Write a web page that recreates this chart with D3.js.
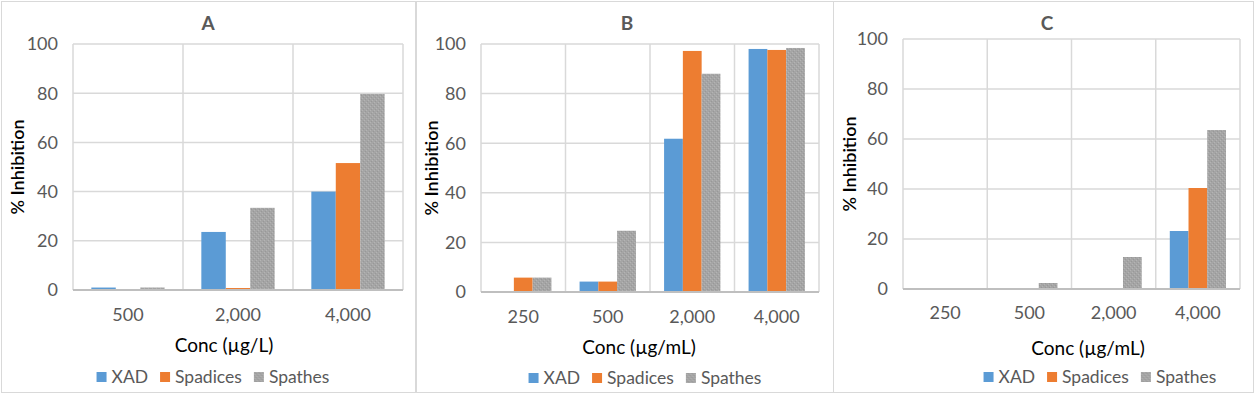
<!DOCTYPE html>
<html>
<head>
<meta charset="utf-8">
<script src="https://cdn.jsdelivr.net/npm/d3@7"></script>
<style>
  body { margin: 0; background: #fff; }
  text { font-family: Lato, "Open Sans", sans-serif; }
</style>
</head>
<body>
<svg id="chart" width="1254" height="395"></svg>
<script>
// data
const seriesNames = ["XAD", "Spadices", "Spathes"]
const catsA = ["500", "2,000", "4,000"]
const catsBC = ["250", "500", "2,000", "4,000"]
const yTicks = [0, 20, 40, 60, 80, 100]

const aXAD = [1, 23.6, 40]
const aSpadices = [0, 0.8, 51.6]
const aSpathes = [1, 33.4, 79.7]

const bXAD = [0, 4.2, 61.8, 98]
const bSpadices = [5.8, 4.2, 97.2, 97.6]
const bSpathes = [5.8, 24.7, 88, 98.4]

const cXAD = [0, 0, 0, 23.2]
const cSpadices = [0, 0, 0, 40.4]
const cSpathes = [0, 2.4, 12.8, 63.6]

const colors = ["#5b9bd5", "#ed7d31", "url(#grain)"]

const svg = d3.select("#chart")

// grainy grey pattern for the Spathes bars
const defs = svg.append("defs")
const pat = defs.append("pattern").attr("id", "grain")
  .attr("width", 4).attr("height", 4).attr("patternUnits", "userSpaceOnUse")
pat.append("rect").attr("width", 4).attr("height", 4).attr("fill", "#a5a5a5")
pat.append("rect").attr("x", 0).attr("y", 0).attr("width", 1).attr("height", 1).attr("fill", "#b4b4b4")
pat.append("rect").attr("x", 2).attr("y", 2).attr("width", 1).attr("height", 1).attr("fill", "#b4b4b4")
pat.append("rect").attr("x", 1).attr("y", 3).attr("width", 1).attr("height", 1).attr("fill", "#989898")
pat.append("rect").attr("x", 3).attr("y", 1).attr("width", 1).attr("height", 1).attr("fill", "#989898")

const panels = [
  { title: "A", cats: catsA, values: [aXAD, aSpadices, aSpathes], xTitle: "Conc (µg/L)",
    box: [1, 1, 415, 392], plot: [73, 44, 403, 290], titleX: 208, yLabX: 18, tickY: 315, xTitleX: 224, xTitleY: 345, legX: 213, legY: 377 },
  { title: "B", cats: catsBC, values: [bXAD, bSpadices, bSpathes], xTitle: "Conc (µg/mL)",
    box: [416, 1, 833, 392], plot: [481, 44, 819, 292], titleX: 627, yLabX: 432, tickY: 317, xTitleX: 639, xTitleY: 347, legX: 645, legY: 378 },
  { title: "C", cats: catsBC, values: [cXAD, cSpadices, cSpathes], xTitle: "Conc (µg/mL)",
    box: [833, 1, 1253, 392], plot: [903, 39, 1240, 289], titleX: 1047, yLabX: 850, tickY: 313, xTitleX: 1088, xTitleY: 348, legX: 1100, legY: 377 }
]

panels.forEach(drawPanel)

function drawPanel(p) {
  const g = svg.append("g")
  const [l, t, r, b] = p.plot

  g.append("rect")
    .attr("x", p.box[0] + 0.5).attr("y", p.box[1] + 0.5)
    .attr("width", p.box[2] - p.box[0]).attr("height", p.box[3] - p.box[1])
    .attr("fill", "#fff").attr("stroke", "#d9d9d9").attr("stroke-width", 1)

  const x = d3.scaleBand().domain(p.cats).range([l, r]).padding(0)
  const xs = d3.scaleBand().domain(seriesNames).range([0, x.bandwidth()])
    .paddingInner(0).paddingOuter(0.75)
  const y = d3.scaleLinear().domain([0, 100]).range([b, t])

  // horizontal grid
  g.selectAll(".hg").data(yTicks).join("line")
    .attr("x1", l).attr("x2", r)
    .attr("y1", d => y(d)).attr("y2", d => y(d))
    .attr("stroke", "#d9d9d9").attr("stroke-width", 1.5)

  // vertical grid at category boundaries
  const bounds = p.cats.map(c => x(c)).concat([r])
  g.selectAll(".vg").data(bounds).join("line")
    .attr("x1", d => d).attr("x2", d => d)
    .attr("y1", t).attr("y2", b)
    .attr("stroke", "#d9d9d9").attr("stroke-width", 1.5)

  // bars
  seriesNames.forEach((s, si) => {
    g.selectAll(".bar" + si).data(p.values[si]).join("rect")
      .attr("x", (d, i) => x(p.cats[i]) + xs(s))
      .attr("width", xs.bandwidth())
      .attr("y", d => y(d))
      .attr("height", d => y(0) - y(d))
      .attr("fill", colors[si])
  })

  // x axis line
  g.append("line").attr("x1", l).attr("x2", r).attr("y1", b).attr("y2", b)
    .attr("stroke", "#bfbfbf").attr("stroke-width", 2)

  // y tick labels
  g.selectAll(".yt").data(yTicks).join("text")
    .attr("x", l - 15).attr("y", d => y(d))
    .attr("dy", "0.35em").attr("text-anchor", "end")
    .attr("font-size", 18).attr("fill", "#595959")
    .text(d => d)

  // x tick labels
  g.selectAll(".xt").data(p.cats).join("text")
    .attr("x", d => x(d) + x.bandwidth() / 2).attr("y", p.tickY)
    .attr("dy", "0.35em").attr("text-anchor", "middle")
    .attr("font-size", 18).attr("fill", "#595959")
    .text(d => d)

  // title
  g.append("text").attr("x", p.titleX).attr("y", 23).attr("dy", "0.35em")
    .attr("text-anchor", "middle").attr("font-size", 19).attr("font-weight", "bold")
    .attr("fill", "#595959").text(p.title)

  // y title
  g.append("text")
    .attr("transform", `translate(${p.yLabX},${(t + b) / 2}) rotate(-90)`)
    .attr("dy", "0.35em").attr("text-anchor", "middle")
    .attr("font-size", 18).attr("font-weight", 600).attr("fill", "#000")
    .text("% Inhibition")

  // x title
  g.append("text").attr("x", p.xTitleX).attr("y", p.xTitleY).attr("dy", "0.35em")
    .attr("text-anchor", "middle").attr("font-size", 19).attr("fill", "#000")
    .text(p.xTitle)

  // legend
  const leg = g.append("g")
  let cx = 0
  seriesNames.forEach((s, si) => {
    leg.append("rect").attr("x", cx).attr("y", p.legY - 5)
      .attr("width", 10).attr("height", 10).attr("fill", colors[si])
    const tx = leg.append("text").attr("x", cx + 15).attr("y", p.legY).attr("dy", "0.35em")
      .attr("font-size", 17.5).attr("fill", "#595959").text(s)
    cx += 15 + tx.node().getComputedTextLength() + 12
  })
  const w = cx - 12
  leg.attr("transform", `translate(${p.legX - w / 2},0)`)
}
</script>
</body>
</html>
